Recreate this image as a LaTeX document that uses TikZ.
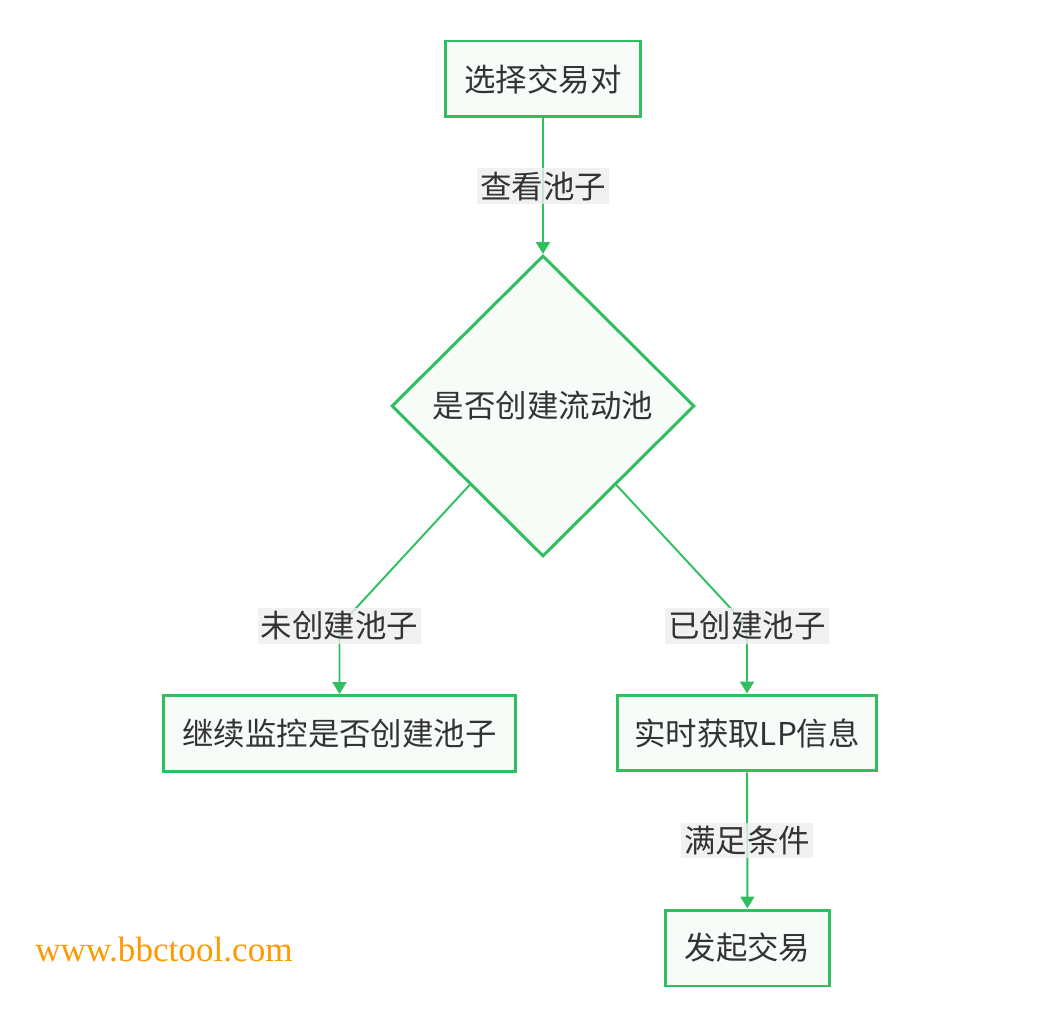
\documentclass[tikz,border=0pt]{standalone}
\usepackage{fontspec}
\setmainfont{Noto Sans CJK SC}
\newfontfamily\wmfont{Liberation Serif}
\usetikzlibrary{arrows.meta,positioning,calc,shapes.geometric}
\definecolor{mygreen}{HTML}{2FBF5F}
\definecolor{myfill}{HTML}{F7FCF9}
\definecolor{mytext}{HTML}{333333}
\definecolor{mylabel}{HTML}{EEEEEE}
\definecolor{myorange}{HTML}{FF9900}

\begin{document}
\begin{tikzpicture}[x=0.02cm, y=-0.02cm,
    every node/.style={font=\fontsize{17.9}{21}\selectfont, text=mytext},
    proc/.style={draw=mygreen, line width=1.7pt, fill=myfill,
                 minimum height=1.52cm, inner sep=0pt},
    dec/.style={diamond, draw=mygreen, line width=1.7pt, fill=myfill,
                minimum width=6.06cm, minimum height=6.02cm, inner sep=0pt},
    lbl/.style={sharp corners, fill=mylabel, fill opacity=0.8, text opacity=1,
                inner xsep=0.06cm, inner ysep=0pt, minimum height=0.72cm},
    arr/.style={-{Triangle[length=0.24cm,width=0.28cm]}, line width=1.1pt, mygreen}
  ]
  \useasboundingbox (0,0) rectangle (1046,1010);
  \node[proc, minimum width=3.9cm]  (pick)  at (543,79)    {选择交易对};
  \node[dec]                        (pool)  at (543,406)   {是否创建流动池};
  \node[proc, minimum width=7.04cm] (watch) at (339.5,733.5) {继续监控是否创建池子};
  \node[proc, minimum width=5.18cm] (lp)    at (747,733)   {实时获取LP信息};
  \node[proc, minimum width=3.28cm] (trade) at (747.5,948) {发起交易};
  \node[text=myorange, font=\wmfont\fontsize{20}{24}\selectfont] (wm) at (164,950) {www.bbctool.com};
  \draw[arr] (pick) -- node[lbl] {查看池子} (pool);
  \draw[arr, rounded corners=8pt] ($(pool.west)!0.52!(pool.south)$)
    -- (watch.north |- 0,626) node[lbl] {未创建池子} -- (watch.north);
  \draw[arr, rounded corners=8pt] ($(pool.east)!0.52!(pool.south)$)
    -- (lp.north |- 0,626) node[lbl] {已创建池子} -- (lp.north);
  \draw[arr] (lp) -- node[lbl] {满足条件} (trade);
\end{tikzpicture}
\end{document}
